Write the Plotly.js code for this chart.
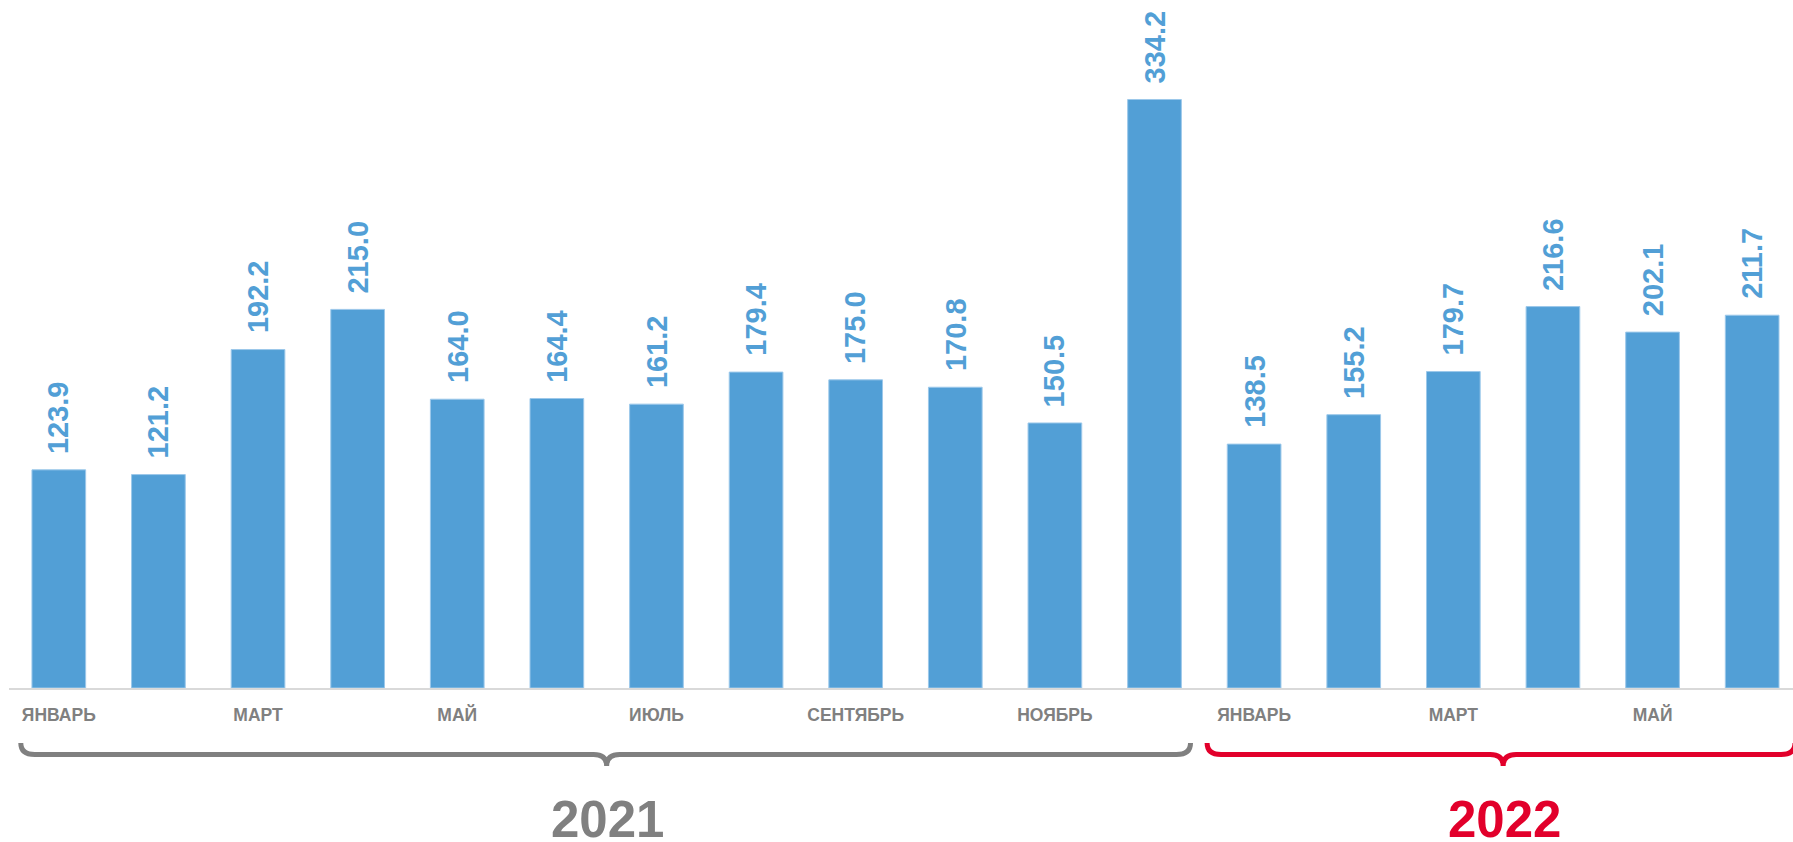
<!DOCTYPE html>
<html>
<head>
<meta charset="utf-8">
<script src="https://cdn.plot.ly/plotly-3.0.1.min.js"></script>
<style>html,body{margin:0;padding:0;background:#fff;}#chart{width:1793px;height:842px;}</style>
</head>
<body>
<div id="chart"></div>
<script>
// ---- data ----
const months = ['ЯНВАРЬ','ФЕВРАЛЬ','МАРТ','АПРЕЛЬ','МАЙ','ИЮНЬ','ИЮЛЬ','АВГУСТ','СЕНТЯБРЬ','ОКТЯБРЬ','НОЯБРЬ','ДЕКАБРЬ',
                'ЯНВАРЬ','ФЕВРАЛЬ','МАРТ','АПРЕЛЬ','МАЙ','ИЮНЬ'];
const values = [123.9,121.2,192.2,215.0,164.0,164.4,161.2,179.4,175.0,170.8,150.5,334.2,
                138.5,155.2,179.7,216.6,202.1,211.7];
const years = ['2021','2022'];
const yearStart = [0,12];
const yearEnd = [11,17];
const yearColors = ['#808080','#E2002B'];

// ---- helpers ----
const W = 1793, H = 842;
const mL = 9, mR = 0, mT = 0, mB = 154;
const plotW = W - mL - mR, plotH = H - mT - mB;
const xr = [-0.5, 17.41];
const pxPerX = plotW / (xr[1] - xr[0]);
const dx = p => p / pxPerX;                 // pixel distance -> data x units
const py = p => (plotH - p) / plotH;        // pixel y (from top) -> paper y

const idx = values.map((_, i) => i);
const tickIdx = idx.filter(i => i % 2 === 0);

const bar = {
  type: 'bar',
  x: idx,
  y: values,
  marker: {color: '#529FD6', line: {color: '#9CC8EA', width: 1}},
  hoverinfo: 'skip'
};

const annotations = values.map((v, i) => ({
  x: i, y: v, xref: 'x', yref: 'y',
  text: v.toFixed(1),
  textangle: -90,
  showarrow: false,
  xanchor: 'center', yanchor: 'bottom',
  yshift: 14,
  font: {family: 'Liberation Sans, Arial, sans-serif', size: 29, weight: 700, color: '#529FD6'}
}));

const shapes = [];
years.forEach((yr, k) => {
  const x0 = yearStart[k] - (k === 0 ? dx(38) : dx(47));
  const x1 = (k === years.length - 1) ? xr[1] + dx(2) : yearEnd[k] + dx(36);
  const xm = (yearStart[k] + yearEnd[k]) / 2;
  const r = dx(14), rt = dx(13);
  const yE = py(743), yL = py(754.5), yT = py(766);
  const path = `M ${x0},${yE} Q ${x0},${yL} ${x0 + r},${yL} L ${xm - rt},${yL} Q ${xm},${yL} ${xm},${yT} ` +
               `Q ${xm},${yL} ${xm + rt},${yL} L ${x1 - r},${yL} Q ${x1},${yL} ${x1},${yE}`;
  shapes.push({type: 'path', xref: 'x', yref: 'paper', path: path,
               line: {color: yearColors[k], width: 5}, layer: 'above'});
  annotations.push({
    x: xm + dx(1), y: py(819), xref: 'x', yref: 'paper',
    text: yr, showarrow: false, xanchor: 'center', yanchor: 'middle',
    font: {family: 'Liberation Sans, Arial, sans-serif', size: 51, weight: 700, color: yearColors[k]}
  });
});

const layout = {
  width: W, height: H,
  margin: {l: mL, r: mR, t: mT, b: mB, pad: 0},
  paper_bgcolor: '#ffffff', plot_bgcolor: '#ffffff',
  showlegend: false,
  bargap: 0.461,
  xaxis: {
    range: xr, showgrid: false, zeroline: false,
    showline: true, linecolor: '#D9D9D9', linewidth: 2,
    tickmode: 'array', tickvals: tickIdx, ticktext: tickIdx.map(i => months[i]),
    ticks: '', ticklabelstandoff: 10,
    tickfont: {family: 'Liberation Sans, Arial, sans-serif', size: 17.5, weight: 700, color: '#808080'}
  },
  yaxis: {range: [0, 390.7], visible: false, showgrid: false, zeroline: false, fixedrange: true},
  annotations: annotations,
  shapes: shapes
};

Plotly.newPlot('chart', [bar], layout, {displayModeBar: false, staticPlot: true});
</script>
</body>
</html>
